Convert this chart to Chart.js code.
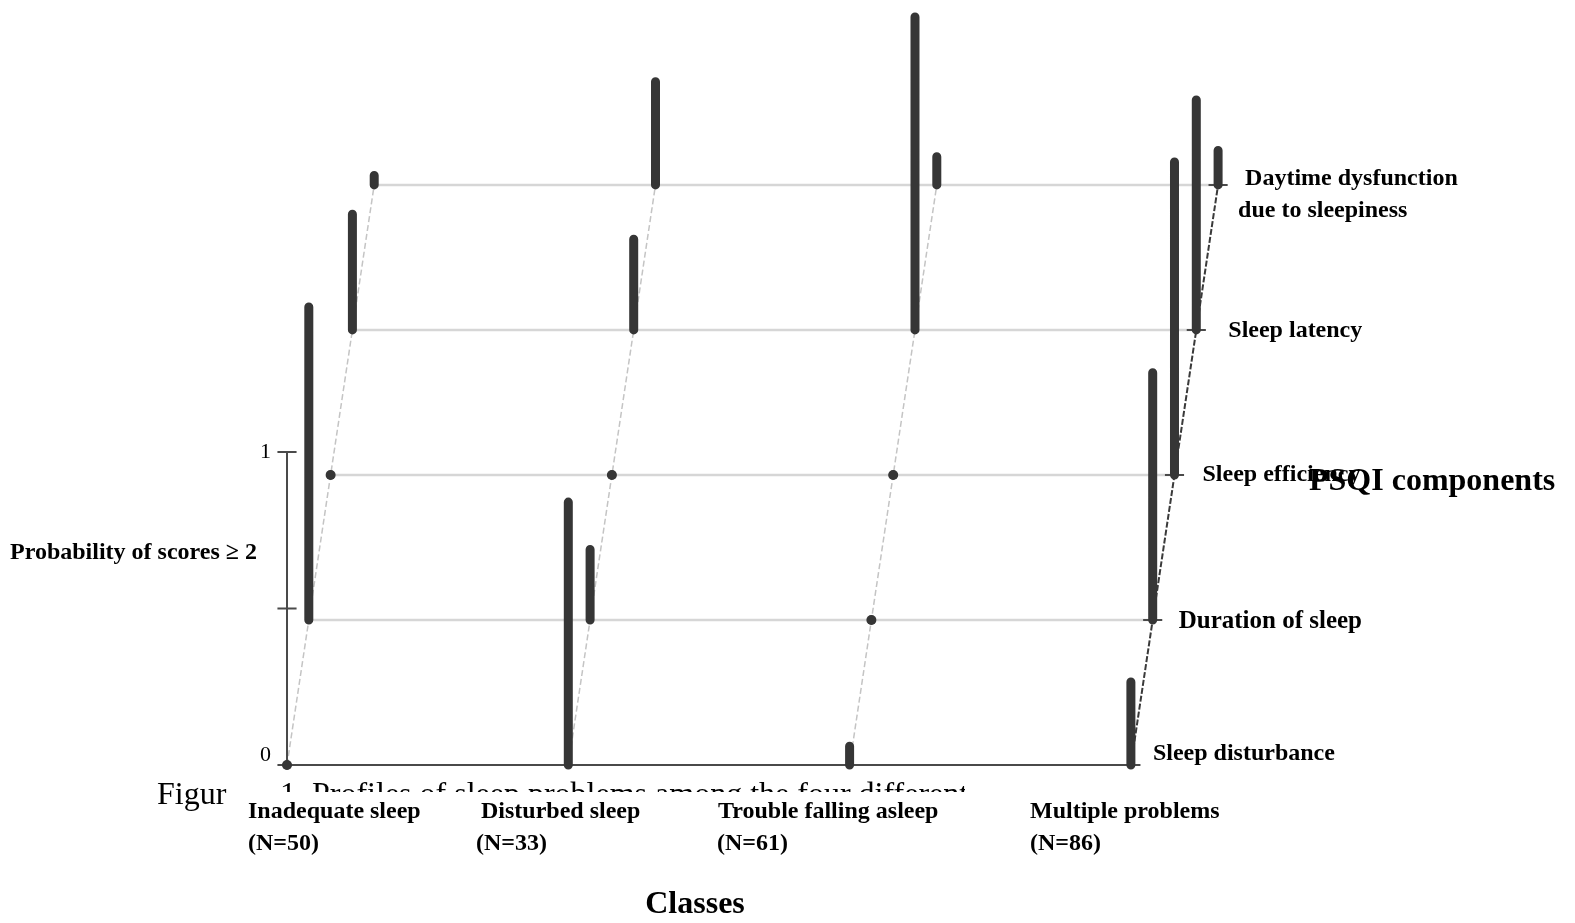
<!DOCTYPE html>
<html>
<head>
<meta charset="utf-8">
<script src="https://cdn.jsdelivr.net/npm/chart.js@4.4.0/dist/chart.umd.min.js"></script>
<style>
html, body { margin: 0; padding: 0; background: #fff; }
#wrap { width: 1575px; height: 923px; }
</style>
</head>
<body>
<div id="wrap"><canvas id="chart" width="1575" height="923"></canvas></div>
<script>
// classes along the front axis, components stacked in depth
const classes = ["Inadequate sleep", "Disturbed sleep", "Trouble falling asleep", "Multiple problems"];
const classN = [50, 33, 61, 86];
const components = ["Sleep disturbance", "Duration of sleep", "Sleep efficiency", "Sleep latency", "Daytime dysfunction\ndue to sleepiness"];

// probability of scores >= 2, one array per component, in class order
const sleepDisturbance = [0, 0.84, 0.06, 0.265];
const sleepDuration = [1.0, 0.225, 0, 0.79];
const sleepEfficiency = [0, 0, 0, 1.0];
const sleepLatency = [0.37, 0.29, 1.0, 0.735];
const daytimeDysfunction = [0.03, 0.33, 0.09, 0.11];

const yTicks = [0, 0.5, 1];
const yTickLabels = ["0", "", "1"];

const rows = [sleepDisturbance, sleepDuration, sleepEfficiency, sleepLatency, daytimeDysfunction];

// depth shift of each component row (in axis units)
const DX = 0.0775;
const DY = 0.4633;
const TICK = 0.034;

const dark = '#363636';

function barPoints() {
    let pts = [];
    for (let c = 0; c < classes.length; c++) {
        for (let r = 0; r < rows.length; r++) {
            let p = rows[r][c];
            let x = c + r * DX;
            pts.push({x: x, y: r * DY, dot: p === 0});
            pts.push({x: x, y: r * DY + p});
            pts.push({x: x, y: null});
        }
    }
    return pts;
}

function gridPoints() {
    let pts = [];
    for (let r = 1; r < rows.length; r++) {
        pts.push({x: r * DX, y: r * DY});
        pts.push({x: classes.length - 1 + r * DX, y: r * DY});
        pts.push({x: 0, y: null});
    }
    return pts;
}

function depthPoints(from, to) {
    let pts = [];
    for (let c = from; c < to; c++) {
        pts.push({x: c, y: 0});
        pts.push({x: c + (rows.length - 1) * DX, y: (rows.length - 1) * DY});
        pts.push({x: c, y: null});
    }
    return pts;
}

function axisPoints() {
    let last = classes.length - 1;
    let pts = [];
    // front axis
    pts.push({x: -TICK, y: 0}, {x: last + TICK, y: 0}, {x: 0, y: null});
    // probability axis
    pts.push({x: 0, y: yTicks[0]}, {x: 0, y: yTicks[yTicks.length - 1]}, {x: 0, y: null});
    for (let t of yTicks)
        pts.push({x: -TICK, y: t}, {x: TICK, y: t}, {x: 0, y: null});
    // small marks where the rows meet the last depth line
    for (let r = 1; r < rows.length; r++)
        pts.push({x: last + r * DX - TICK, y: r * DY}, {x: last + r * DX + TICK, y: r * DY}, {x: 0, y: null});
    return pts;
}

const labelPlugin = {
    id: 'labels',
    afterDraw(chart) {
        const ctx = chart.ctx;
        const xs = chart.scales.x, ys = chart.scales.y;
        const serif = '"Liberation Serif", "DejaVu Serif", serif';
        ctx.save();
        ctx.fillStyle = '#000';
        ctx.textAlign = 'left';

        // caption, mostly hidden behind the class labels
        ctx.font = '32px ' + serif;
        ctx.textBaseline = 'alphabetic';
        ctx.fillText("Figur", 157, 804);
        ctx.save();
        ctx.beginPath();
        ctx.rect(229, 0, 736, 792);
        ctx.clip();
        ctx.fillText("1. Profiles of sleep problems among the four different classes", 280, 804);
        ctx.restore();

        ctx.textBaseline = 'middle';

        // tick labels on probability axis
        ctx.font = '22px ' + serif;
        ctx.textAlign = 'right';
        yTicks.forEach((t, i) => {
            if (yTickLabels[i])
                ctx.fillText(yTickLabels[i], xs.getPixelForValue(0) - 16, ys.getPixelForValue(t) - (t === 0 ? 10 : 0));
        });

        ctx.font = 'bold 24px ' + serif;
        ctx.textAlign = 'left';
        ctx.fillText("Probability of scores \u2265 2", 10, 553);

        // class labels
        const classX = [248, 481, 718, 1030];
        const nX = [248, 476, 717, 1030];
        ctx.font = 'bold 24px ' + serif;
        classes.forEach((name, i) => {
            ctx.fillText(name, classX[i], 812);
            ctx.fillText("(N=" + classN[i] + ")", nX[i], 844);
        });

        // component labels at the right end of each row
        const compDX = [22, 26, 28, 32, 27];
        const compDY = [-11, 2, 0, 1, -6];
        components.forEach((name, r) => {
            let px = xs.getPixelForValue(classes.length - 1 + r * DX) + compDX[r];
            let py = ys.getPixelForValue(r * DY) + compDY[r];
            let parts = name.split("\n");
            ctx.font = 'bold ' + (r === 1 ? 25 : 24) + 'px ' + serif;
            if (parts.length > 1) {
                ctx.fillText(parts[0], px, py);
                ctx.fillText(parts[1], px - 7, py + 32);
            } else {
                ctx.fillText(name, px, py);
            }
        });

        ctx.font = 'bold 32px ' + serif;
        ctx.fillText("PSQI components", 1309, 482);

        ctx.textAlign = 'center';
        ctx.font = 'bold 32px ' + serif;
        ctx.fillText("Classes", 695, 905);
        ctx.restore();
    }
};

const data = {
    datasets: [{
            label: "bars",
            data: barPoints(),
            borderColor: dark,
            borderWidth: 9,
            borderCapStyle: 'round',
            backgroundColor: dark,
            pointRadius: (c) => (c.raw && c.raw.dot ? 5 : 0),
            pointBackgroundColor: dark,
            pointBorderWidth: 0,
            order: 0
        }, {
            label: "axes",
            data: axisPoints(),
            borderColor: '#4a4a4a',
            borderWidth: 2,
            pointRadius: 0,
            order: 1
        }, {
            label: "last depth line",
            data: depthPoints(classes.length - 1, classes.length),
            borderColor: '#3a3a3a',
            borderWidth: 2,
            borderDash: [6, 2],
            pointRadius: 0,
            order: 2
        }, {
            label: "depth lines",
            data: depthPoints(0, classes.length - 1),
            borderColor: '#c4c4c4',
            borderWidth: 1.5,
            borderDash: [6, 3],
            pointRadius: 0,
            order: 3
        }, {
            label: "row lines",
            data: gridPoints(),
            borderColor: '#d6d6d6',
            borderWidth: 2.5,
            pointRadius: 0,
            order: 4
        }]
};

const config = {
    type: "line",
    data: data,
    options: {
        responsive: false,
        animation: false,
        events: [],
        spanGaps: false,
        layout: {padding: 0, autoPadding: false},
        plugins: {
            legend: {display: false},
            tooltip: {enabled: false}
        },
        scales: {
            x: {type: 'linear', display: false, min: -1.0203, max: 4.5788},
            y: {type: 'linear', display: false, min: -0.5048, max: 2.444}
        }
    },
    plugins: [labelPlugin]
};

let ctx = document.getElementById("chart").getContext("2d");
new Chart(ctx, config);
</script>
</body>
</html>
